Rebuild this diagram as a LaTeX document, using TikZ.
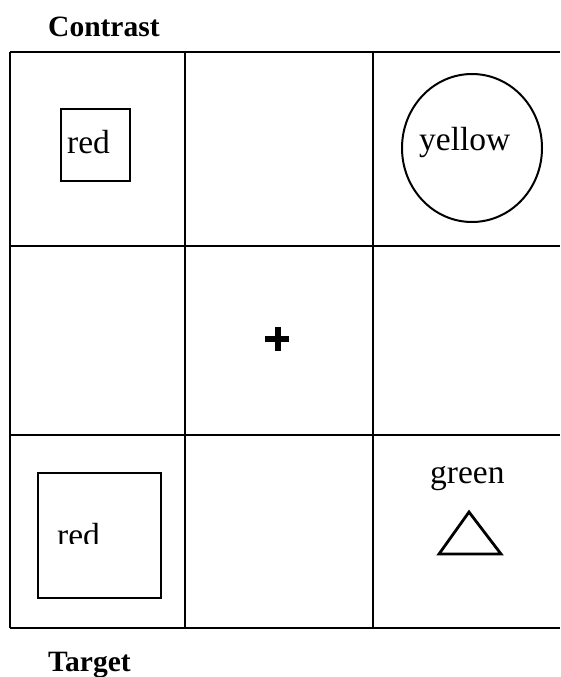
\documentclass[tikz,border=0pt]{standalone}
\usepackage{fontspec}
\setmainfont{Liberation Serif}
\usepackage{tikz}
\usetikzlibrary{positioning}

\begin{document}
\begin{tikzpicture}[x=1pt,y=-1pt,
    word/.style={font=\fontsize{33.5}{36}\selectfont, inner sep=0pt, anchor=base west},
    heading/.style={font=\bfseries\fontsize{29.5}{34}\selectfont, inner sep=0pt, anchor=base west},
    gridline/.style={line width=2pt},
    outline/.style={line width=2.8pt}]
  \useasboundingbox (0,0) rectangle (560,677);

  % grid of 3 x 3 cells, right border off the page
  \foreach \y in {52,246,435,628}
    \draw[gridline] (10,\y) -- (560,\y);
  \foreach \x in {10,185,373}
    \draw[gridline] (\x,52) -- (\x,628);

  \node[heading] (contrast) at (48,37) {Contrast};
  \node[heading] (target) at (48,671) {Target};

  % top row
  \draw[outline] (61,109) rectangle (130,181);
  \node[word] (redtop) at (67,153) {red};
  \draw[gridline] (472,148) ellipse (70 and 74);
  \node[word] (yellow) at (419,150) {yellow};

  % fixation cross
  \draw[line width=6.5pt] (265,339) -- (289,339);
  \draw[line width=6.5pt] (278,327) -- (278,351);

  % bottom row
  \draw[outline] (38,473) rectangle (161,598);
  \begin{scope}
    \clip (40,500) rectangle (160,543);
    \node[word] (redbottom) at (57,546) {red};
  \end{scope}
  \node[word] (green) at (430,483) {green};
  \draw[outline, line join=miter] (469,512) -- (439,554) -- (501,554) -- cycle;
\end{tikzpicture}
\end{document}
